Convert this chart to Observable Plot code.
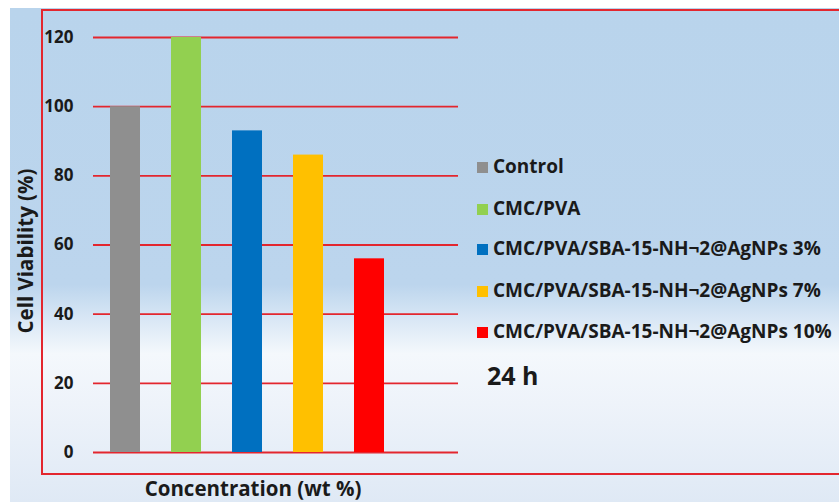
<!DOCTYPE html>
<html>
<head>
<meta charset="utf-8">
<script src="https://cdn.jsdelivr.net/npm/d3@7"></script>
<script src="https://cdn.jsdelivr.net/npm/@observablehq/plot@0.6"></script>
<style>
  html, body { margin: 0; padding: 0; background: #fff; }
  #wrap { position: relative; width: 839px; height: 502px; overflow: hidden; font-family: "Open Sans", Lato, sans-serif; font-weight: 700; color: #1a1a1a; }
  #bg { position: absolute; left: 10px; top: 8px; right: 0; bottom: 0;
        background: linear-gradient(to bottom, #b9d4ec 0%, #bcd5ed 56%, #d9e7f5 63%, #f4f8fc 70%, #eef3fa 80%, #dfe9f5 100%); }
  #border { position: absolute; left: 41px; top: 9px; width: 820px; height: 462px; border: 2px solid #e3262e; }
  #chart { position: absolute; left: 0; top: 0; }
  #chart svg { background: transparent !important; }
  .leg { position: absolute; left: 477px; font-size: 19px; white-space: nowrap; line-height: 1; }
  .sw { display: inline-block; width: 11px; height: 11px; margin-right: 5px; vertical-align: 0px; }
  #h24 { position: absolute; left: 487px; top: 363px; font-size: 25px; line-height: 1; }
  #ytitle { position: absolute; left: 25px; top: 251px; transform: translate(-50%, -50%) rotate(-90deg); font-size: 20.5px; white-space: nowrap; line-height: 1; }
  #xtitle { position: absolute; left: 253px; top: 488px; transform: translate(-50%, -50%); font-size: 20.5px; white-space: nowrap; line-height: 1.1; }
</style>
</head>
<body>
<div id="wrap">
  <div id="bg"></div>
  <div id="border"></div>
  <div id="chart"></div>
  <div id="legend"></div>
  <div id="h24">24 h</div>
  <div id="ytitle">Cell Viability (%)</div>
  <div id="xtitle">Concentration (wt %)</div>
</div>
<script>
const categories = ["Control", "CMC/PVA", "CMC/PVA/SBA-15-NH¬2@AgNPs 3%", "CMC/PVA/SBA-15-NH¬2@AgNPs 7%", "CMC/PVA/SBA-15-NH¬2@AgNPs 10%"];
const viability = [100, 120, 93, 86, 56];
const colors = ["#8f8f8f", "#92d050", "#0070c0", "#ffc000", "#ff0000"];
const yTicks = [0, 20, 40, 60, 80, 100, 120];

const data = categories.map((c, i) => ({category: c, value: viability[i]}));

const plot = Plot.plot({
  width: 839,
  height: 502,
  marginLeft: 93,
  marginRight: 381,
  marginTop: 37,
  marginBottom: 50,
  style: {background: "transparent", fontFamily: "'Open Sans', Lato, sans-serif"},
  x: {domain: categories, range: [93, 401.5], paddingInner: 0.51, paddingOuter: 0.25, axis: null},
  y: {domain: [0, 120], ticks: yTicks, label: null},
  color: {domain: categories, range: colors},
  marks: [
    Plot.ruleY(yTicks, {stroke: "#e3262e", strokeWidth: 1.8}),
    Plot.barY(data, {x: "category", y: "value", fill: "category"}),
    Plot.axisY({ticks: yTicks, tickSize: 0, tickPadding: 20, fontSize: 17, fontWeight: 700, fill: "#1a1a1a", label: null})
  ]
});
document.getElementById("chart").appendChild(plot);

const legend = document.getElementById("legend");
const rowCenters = [168, 210, 250, 292, 333];
categories.forEach((c, i) => {
  const d = document.createElement("div");
  d.className = "leg";
  d.style.top = (rowCenters[i] - 11) + "px";
  const s = document.createElement("span");
  s.className = "sw";
  s.style.background = colors[i];
  d.appendChild(s);
  d.appendChild(document.createTextNode(c));
  legend.appendChild(d);
});
</script>
</body>
</html>
